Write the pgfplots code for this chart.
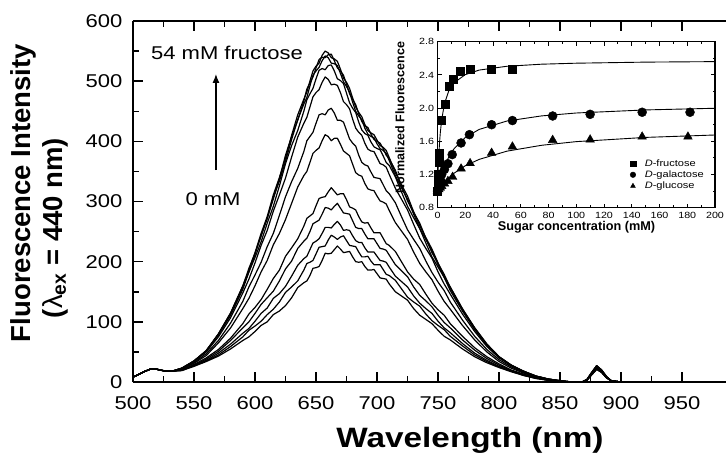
\documentclass[border=0pt]{standalone}
\usepackage{fontspec}
\setmainfont{Liberation Sans}
\newfontfamily\stf{Liberation Sans}[FakeStretch=1.19]
\usepackage{pgfplots}
\usepackage{pgfplotstable}
\pgfplotsset{compat=1.18}
\usetikzlibrary{arrows.meta}

% emission spectra, 54 mM fructose (c1) ... 0 mM (c12)
\pgfplotstableread{
lam c1 c2 c3 c4 c5 c6 c7 c8 c9 c10 c11 c12
500 8 8 8 8 8 8 8 8 8 8 8 8
505 13 13 13 13 13 13 13 13 13 13 13 13
510 18 18 18 18 18 18 18 18 18 18 18 18
515 22 22 22 22 22 22 22 22 22 22 22 22
518 22 22 22 22 22 22 22 22 22 22 22 22
522 20 20 20 20 20 20 20 20 20 20 20 20
527 18 18 18 18 18 18 18 18 18 18 18 18
532 18 18 18 18 18 18 18 18 18 18 18 18
540 23 23 23 23 22 22 21 20 20 20 19 19
550 35 35 35 34 34 32 31 29 28 27 27 26
560 52 52 52 51 50 47 44 40 38 36 35 34
570 80 80 79 78 75 69 65 54 51 48 45 43
580 115 114 114 111 107 98 90 73 69 63 59 55
590 160 159 158 154 148 134 122 97 90 81 75 69
595 186 189 183 183 171 158 139 113 100 89 86 75
600 215 214 212 207 198 178 160 124 114 101 93 84
605 247 242 245 233 227 199 183 137 129 114 101 94
610 275 273 271 264 252 225 202 154 140 123 112 100
615 311 304 307 292 284 247 228 172 151 139 121 112
620 340 338 334 326 311 277 247 186 168 147 133 118
625 372 377 367 363 339 308 270 209 188 159 149 127
630 410 408 403 393 374 333 297 223 201 176 158 140
635 444 435 436 418 407 355 324 238 222 194 168 157
640 470 467 462 450 430 383 343 259 234 205 186 165
642.5 482 487 473 469 440 401 350 272 239 209 197 168
645 500 497 492 479 457 408 365 276 250 220 199 177
647.5 517 507 510 488 474 415 380 280 263 231 202 189
650 525 522 517 504 481 430 385 293 266 234 213 190
652.5 530 536 523 518 486 444 389 305 269 238 224 192
655 543 540 534 521 498 446 401 307 279 247 225 202
657.5 550 539 542 519 507 444 411 308 290 257 226 214
660 547 544 539 526 503 452 408 316 289 257 236 213
662.5 539 545 530 527 494 455 401 323 286 256 244 214
665 537 534 529 517 495 447 405 317 292 262 241 220
667.5 533 522 526 504 493 435 405 311 297 267 237 226
670 520 517 513 501 481 435 395 313 289 261 241 221
672.5 505 510 499 496 466 432 384 313 281 252 243 215
675 498 495 491 480 461 418 380 303 280 253 235 216
677.5 488 479 482 464 454 404 376 291 279 252 227 217
680 472 470 465 455 437 397 362 289 268 243 226 208
682.5 457 461 450 448 422 392 348 286 257 235 225 200
685 448 446 442 432 415 377 344 275 255 232 216 199
687.5 441 433 436 419 410 365 342 266 255 232 208 200
690 428 426 422 413 397 361 330 264 246 223 208 192
692.5 418 423 412 410 387 359 321 265 238 216 209 186
695 414 412 408 399 384 349 319 256 238 216 201 186
697.5 411 403 406 391 383 340 318 248 238 216 195 187
700 402 400 396 388 373 339 309 248 230 209 195 180
702.5 393 397 388 386 363 338 301 248 222 202 195 173
705 390 388 385 376 361 328 299 239 221 201 187 172
707.5 385 377 380 365 357 318 296 230 219 199 179 171
710 373 371 368 360 345 313 285 227 211 191 177 163
715 348 352 343 341 322 298 265 217 195 176 169 150
720 328 326 323 316 304 275 251 200 185 167 155 143
725 309 301 304 292 286 253 237 183 175 158 141 136
730 283 282 279 273 262 237 216 171 158 143 133 122
735 260 264 255 255 239 222 197 162 144 131 126 111
740 240 239 237 231 222 201 183 146 135 122 113 104
745 221 215 218 208 206 182 170 131 125 114 102 97
750 198 197 195 191 183 166 151 120 111 101 94 86
755 176 179 174 174 163 152 134 111 99 90 87 76
760 158 157 156 152 146 133 121 97 90 82 76 70
770 122 121 120 118 113 103 94 76 70 64 60 55
780 90 90 89 87 84 76 70 57 53 48 45 42
790 63 63 62 61 59 54 50 42 39 36 34 32
800 42 42 42 41 40 37 34 30 28 26 25 24
810 28 28 28 27 27 25 23 20 19 18 18 17
820 18 18 18 18 17 16 15 13 13 12 11 11
830 10 10 10 10 9 9 8 7 7 7 6 6
840 5 5 5 5 5 4 4 4 3 3 3 3
850 2 2 2 2 2 2 2 1 1 1 1 1
860 0 0 0 0 0 0 0 0 0 0 0 0
868 0 0 0 0 0 0 0 0 0 0 0 0
872 4 4 4 4 4 4 3 3 3 3 3 3
876 16 16 16 16 15 15 14 13 13 13 12 12
880 27 27 27 27 26 25 25 23 22 22 21 21
884 20 20 20 20 19 19 18 17 17 16 16 16
888 9 9 9 9 9 8 8 8 7 7 7 7
892 2 2 2 2 2 2 2 2 2 2 2 2
900 0 0 0 0 0 0 0 0 0 0 0 0
985 0 0 0 0 0 0 0 0 0 0 0 0
}\spectra

\begin{document}
\begin{tikzpicture}
\begin{axis}[
    at={(0,0)}, anchor=south west,
    scale only axis, width=593pt, height=361pt,
    xmin=500, xmax=986, ymin=0, ymax=600,
    axis x line*=box, axis y line*=left,
    axis line style={line width=1.8pt, -},
    xtick={500,550,...,950}, ytick={0,100,...,600},
    minor x tick num=1, minor y tick num=1,
    tick align=inside,
    major tick length=10pt, minor tick length=6pt,
    tick style={black, line width=1.5pt},
    /pgf/number format/assume math mode=true,
    tick label style={font=\stf\fontsize{18.5}{20}\selectfont},
    xticklabel style={yshift=-11pt},
    yticklabel style={xshift=-7pt},
]
\foreach \c in {c1,c2,c3,c4,c5,c6,c7,c8,c9,c10,c11,c12}{
  \addplot[black, line width=1.2pt, line join=round] table[x=lam, y=\c] {\spectra};
}
\node[font=\stf\fontsize{18.5}{20}\selectfont] at (axis cs:577,547) {54 mM fructose};
\node[font=\stf\fontsize{18.5}{20}\selectfont] at (axis cs:565.6,304) {0 mM};
\draw[-{Latex[length=9pt,width=7pt]}, line width=1.2pt] (axis cs:568,352) -- (axis cs:568,512);
\end{axis}

\node[font=\stf\bfseries\fontsize{28}{30}\selectfont] at (337pt,-58pt) {Wavelength (nm)};
\node[rotate=90, font=\bfseries\fontsize{27.5}{30}\selectfont] at (-110pt,189pt) {Fluorescence Intensity};
\node[rotate=90, font=\bfseries\fontsize{27.5}{30}\selectfont] at (-78pt,154pt) {({\mdseries λ}\textsubscript{ex} = 440 nm)};

% inset: normalized fluorescence vs sugar concentration
\begin{axis}[
    at={(304.5pt,174.3pt)}, anchor=south west,
    scale only axis, width=277.5pt, height=166pt,
    xmin=0, xmax=200, ymin=0.8, ymax=2.8,
    xtick={0,20,...,200}, ytick={0.8,1.2,1.6,2.0,2.4,2.8},
    minor x tick num=1, minor y tick num=1,
    tick align=inside, major tick length=4pt, minor tick length=2.5pt,
    axis line style={line width=1.2pt},
    tick style={black, line width=1pt},
    axis background/.style={fill=white},
    /pgf/number format/assume math mode=true,
    tick label style={font=\stf\fontsize{9}{10}\selectfont},
    xticklabel style={yshift=-1pt},
    yticklabel style={xshift=0pt, /pgf/number format/.cd, fixed, fixed zerofill, precision=1},
    legend style={draw=none, fill=none, at={(0.69,0.31)}, anchor=north west,
        font=\stf\fontsize{9.3}{10}\selectfont, row sep=-1pt, inner sep=1pt,
        /tikz/every odd column/.append style={column sep=7pt}},
    legend cell align=left,
    legend image code/.code={\draw[#1, mark size=2.8pt] plot coordinates {(0.15cm,0cm)};},
]
% fitted curves
\addplot[black, line width=0.9pt, forget plot] coordinates {
(0,1.0) (0.25,1.143) (0.5,1.262) (1,1.449) (1.5,1.59) (2,1.699) (3,1.859) (5,2.051) (8,2.202)
(12,2.306) (20,2.403) (30,2.458) (50,2.504) (75,2.529) (100,2.541) (150,2.554) (200,2.560)};
\addplot[black, line width=0.9pt, forget plot] coordinates {
(0,1.0) (1,1.076) (2,1.143) (3,1.200) (5,1.297) (8,1.407) (12,1.512) (20,1.646) (30,1.743)
(50,1.844) (75,1.906) (100,1.941) (150,1.978) (200,1.998)};
\addplot[black, line width=0.9pt, forget plot] coordinates {
(0,1.0) (1,1.024) (2,1.047) (3,1.068) (5,1.108) (8,1.159) (12,1.216) (20,1.305) (30,1.382)
(50,1.481) (75,1.552) (100,1.596) (150,1.647) (200,1.676)};
% data
\addplot[only marks, mark=square*, mark size=4pt, black] coordinates {
(0,1.00) (0.3,1.11) (0.6,1.20) (1,1.35) (1.5,1.46) (2.4,1.86) (5.8,2.05) (8.4,2.26)
(11.1,2.35) (16.4,2.44) (23.7,2.47) (39,2.47) (54,2.47)};
\addplot[only marks, mark=*, mark size=4.5pt, black] coordinates {
(0,1.0) (1,1.07) (2,1.13) (3,1.2) (5,1.26) (7.5,1.33) (10.6,1.44) (17,1.58) (23,1.68)
(39,1.80) (54,1.85) (83,1.905) (110,1.925) (147.5,1.95) (182,1.95)};
\addplot[only marks, mark=triangle*, mark size=5pt, black] coordinates {
(0,1.0) (1,1.02) (2,1.04) (3,1.06) (5,1.09) (7.5,1.12) (10.9,1.17) (17,1.27) (23.5,1.335)
(39,1.46) (54,1.535) (83,1.615) (110,1.62) (147.5,1.655) (180.5,1.655)};
\legend{\textit{D}-fructose, \textit{D}-galactose, \textit{D}-glucose}
\end{axis}

\node[font=\bfseries\fontsize{12.7}{14}\selectfont] at (443.5pt,155pt) {Sugar concentration (mM)};
\node[rotate=90, font=\bfseries\fontsize{12.5}{14}\selectfont] at (267pt,264.5pt) {Normalized Fluorescence};

\pgfresetboundingbox
\path[use as bounding box] (-133pt,-79pt) rectangle (593pt,382pt);
\end{tikzpicture}
\end{document}
